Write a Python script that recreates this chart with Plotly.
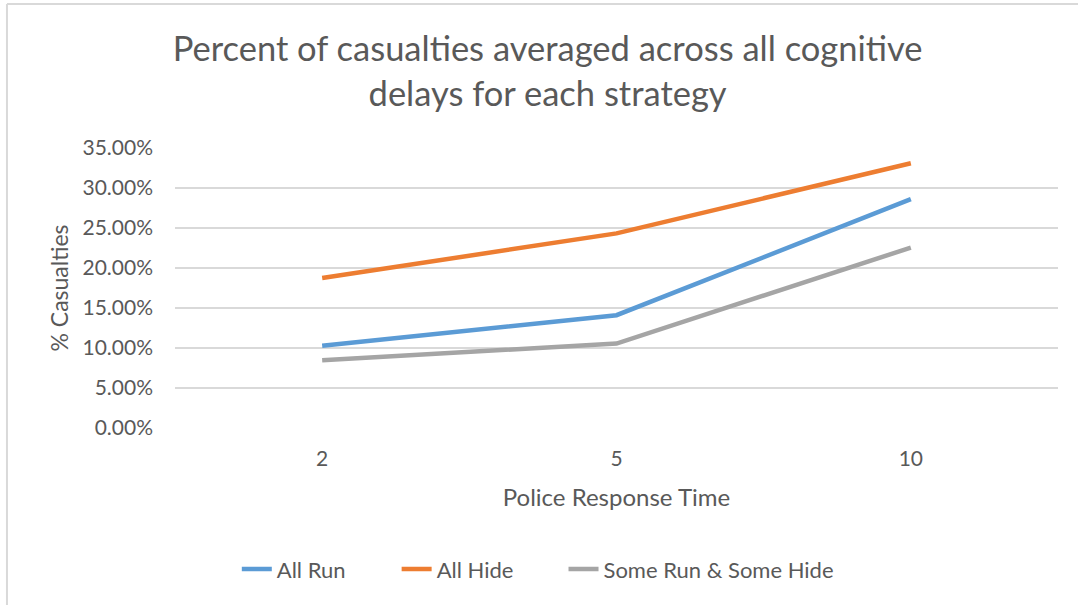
import plotly.graph_objects as go

# police response time categories
response_times = ["2", "5", "10"]

# percent casualties (fractions) per strategy
all_run = [0.1027, 0.1410, 0.2860]
all_hide = [0.1874, 0.2433, 0.3310]
some_run_some_hide = [0.0847, 0.1056, 0.2255]

y_ticks = [0, 0.05, 0.10, 0.15, 0.20, 0.25, 0.30, 0.35]

FONT = "Lato"
TEXT = "#595959"
GRID = "#D9D9D9"

fig = go.Figure()

# each series gets its own legend so the entries can be spread like the original
series = [
    ("All Run", all_run, "#5B9BD5", "legend", 0.070),
    ("All Hide", all_hide, "#ED7D31", "legend2", 0.251),
    ("Some Run & Some Hide", some_run_some_hide, "#A5A5A5", "legend3", 0.440),
]
legends = {}
for name, vals, color, leg, lx in series:
    fig.add_trace(go.Scatter(
        x=response_times, y=vals, name=name, mode="lines",
        line=dict(color=color, width=4.5), legend=leg,
    ))
    legends[leg] = dict(orientation="h", x=lx, xanchor="left", y=-0.504, yanchor="middle",
                        font=dict(size=22, color=TEXT), bgcolor="rgba(0,0,0,0)")

# chart-area border (only top and left edges show in the crop)
fig.add_shape(type="line", xref="paper", yref="paper",
              x0=-0.1903, x1=1.1, y0=1.514, y1=1.514,
              line=dict(color=GRID, width=2))
fig.add_shape(type="line", xref="paper", yref="paper",
              x0=-0.1903, x1=-0.1903, y0=-1.0, y1=1.514,
              line=dict(color=GRID, width=2))

fig.update_layout(
    width=1078, height=605,
    margin=dict(l=175, r=20, t=148, b=177),
    paper_bgcolor="white", plot_bgcolor="white",
    font=dict(family=FONT, color=TEXT, size=16),
    title=dict(
        text="Percent of casualties averaged across all cognitive<br>delays for each strategy",
        x=0.508, xanchor="center", yref="container", y=0.899, yanchor="top",
        font=dict(family=FONT, size=34.5, color=TEXT),
    ),
    showlegend=True,
    **legends,
)

fig.update_xaxes(
    type="category", range=[-0.5, 2.5], showgrid=False, zeroline=False, showline=False,
    ticks="", ticklabelstandoff=16, tickfont=dict(size=21, color=TEXT),
    title=dict(text="Police Response Time", font=dict(size=24, color=TEXT), standoff=20),
)
fig.update_yaxes(
    range=[0, 0.35], tickvals=y_ticks, tickformat=".2%",
    showgrid=True, gridcolor=GRID, gridwidth=1.5, zeroline=False, showline=False,
    ticks="", ticklabelstandoff=21, tickfont=dict(size=21, color=TEXT),
    title=dict(text="% Casualties", font=dict(size=23, color=TEXT), standoff=7),
)

# drop the page's default body margin so the figure sits at the window origin
fig.write_html("out.html", config={"displayModeBar": False},
               post_script="document.body.style.margin='0';")
